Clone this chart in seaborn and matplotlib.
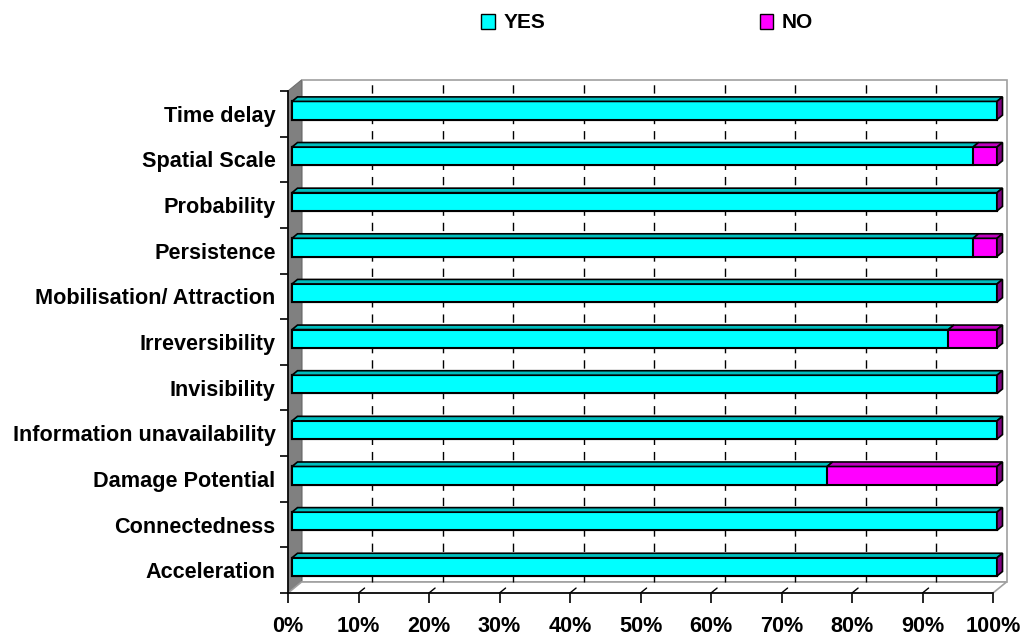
import numpy as np
import pandas as pd
import matplotlib
matplotlib.use("Agg")
import matplotlib.pyplot as plt
import seaborn as sns
from matplotlib.patches import Polygon, Patch
from matplotlib.transforms import offset_copy, IdentityTransform

# data (share of answers, %)
categories = ["Time delay", "Spatial Scale", "Probability", "Persistence",
              "Mobilisation/ Attraction", "Irreversibility", "Invisibility",
              "Information unavailability", "Damage Potential", "Connectedness",
              "Acceleration"]
yes_pct = [100, 96.6, 100, 96.6, 100, 93.1, 100, 100, 75.9, 100, 100]
no_pct = [0, 3.4, 0, 3.4, 0, 6.9, 0, 0, 24.1, 0, 0]
x_ticks = [0, 10, 20, 30, 40, 50, 60, 70, 80, 90, 100]
x_labels = ["0%", "10%", "20%", "30%", "40%", "50%", "60%", "70%", "80%", "90%", "100%"]

df = pd.DataFrame({"cat": categories, "yes": yes_pct, "no": no_pct})
df["total"] = df["yes"] + df["no"]

CYAN, CYAN_TOP = "#00FFFF", "#00BEBE"
MAG, MAG_TOP, MAG_SIDE = "#FF00FF", "#C000C0", "#800080"

sns.set_style("white")
plt.rcParams["font.family"] = ["Liberation Sans", "DejaVu Sans"]
plt.rcParams["font.weight"] = "bold"
plt.rcParams["text.color"] = "black"
FS = 15.6

fig = plt.figure(figsize=(10.25, 6.35), dpi=100)
ax = fig.add_axes([288 / 1025, 1 - 593 / 635, 705 / 1025, 502 / 635])
ax.patch.set_alpha(0)

sns.barplot(data=df, x="total", y="cat", color=MAG, orient="h", width=0.4,
            edgecolor="black", linewidth=1.5, saturation=1, ax=ax, zorder=5)
sns.barplot(data=df, x="yes", y="cat", color=CYAN, orient="h", width=0.4,
            edgecolor="black", linewidth=1.5, saturation=1, ax=ax, zorder=6)

ax.set_xlim(0, 100)
ax.set_ylim(10.5, -0.5)
ax.set_xlabel("")
ax.set_ylabel("")

# bar front faces sit a little behind the front plane
bar_tr = offset_copy(ax.transData, fig=fig, x=4, y=3.3, units="dots")
for p in ax.patches:
    p.set_transform(bar_tr)
    p.set_clip_on(False)

# 3d pieces in pixels
BACK = (13.5, 11.0)
DEPTH = (5.5, 4.5)


def px(x, y, off=(0, 0)):
    a, b = ax.transData.transform((x, y))
    return (a + off[0], b + off[1])


def poly(pts, fc, ec="black", lw=1.0, z=1):
    ax.add_patch(Polygon(pts, closed=True, facecolor=fc, edgecolor=ec, linewidth=lw,
                         transform=IdentityTransform(), clip_on=False, zorder=z))


def seg(a, b, color="black", lw=1.0, z=3, ls="-"):
    ax.add_line(plt.Line2D([a[0], b[0]], [a[1], b[1]], color=color, lw=lw, ls=ls,
                           transform=IdentityTransform(), clip_on=False, zorder=z))


# back wall, left wall, floor
poly([px(0, 10.5, BACK), px(100, 10.5, BACK), px(100, -0.5, BACK), px(0, -0.5, BACK)],
     "white", ec="#A0A0A0", lw=1.2, z=0.5)
poly([px(0, 10.5), px(0, 10.5, BACK), px(0, -0.5, BACK), px(0, -0.5)],
     "#808080", ec="#707070", lw=0.8, z=1)
poly([px(0, 10.5), px(100, 10.5), px(100, 10.5, BACK), px(0, 10.5, BACK)],
     "white", ec="#A0A0A0", lw=1.2, z=1)

for t in x_ticks[1:-1]:
    seg(px(t, 10.5, BACK), px(t, -0.5, BACK), lw=1, z=2, ls=(0, (6, 5)))
    a = px(t, 10.5)
    seg(a, (a[0] + BACK[0] * 0.45, a[1] + BACK[1] * 0.45), lw=1, z=3)

# top and side faces of the bars
for i, row in df.iterrows():
    y_top = i - 0.2
    y_bot = i + 0.2
    parts = [(0, row["yes"], CYAN_TOP)]
    if row["no"] > 0:
        parts.append((row["yes"], row["total"], MAG_TOP))
    for x0, x1, c in parts:
        f0 = px(x0, y_top, (4, 3.3))
        f1 = px(x1, y_top, (4, 3.3))
        poly([f0, f1, (f1[0] + DEPTH[0], f1[1] + DEPTH[1]), (f0[0] + DEPTH[0], f0[1] + DEPTH[1])],
             c, lw=1.2, z=7)
    s0 = px(row["total"], y_top, (4, 3.3))
    s1 = px(row["total"], y_bot, (4, 3.3))
    poly([s0, s1, (s1[0] + DEPTH[0], s1[1] + DEPTH[1]), (s0[0] + DEPTH[0], s0[1] + DEPTH[1])],
         MAG_SIDE, lw=1.2, z=7)

# axes, ticks
for s in ["top", "right"]:
    ax.spines[s].set_visible(False)
for s in ["left", "bottom"]:
    ax.spines[s].set_color("black")
    ax.spines[s].set_linewidth(1.2)
    ax.spines[s].set_zorder(8)

ax.set_xticks(x_ticks)
ax.set_xticklabels(x_labels)
ax.tick_params(axis="x", bottom=True, direction="out", length=7.2, width=1.2,
               color="black", labelcolor="black", pad=9, labelsize=FS)
ax.set_yticks(np.arange(-0.5, 11, 1), minor=True)
ax.tick_params(axis="y", which="major", length=0, pad=9, labelsize=FS, labelcolor="black")
ax.tick_params(axis="y", which="minor", left=True, direction="out", length=5.8,
               width=1.2, color="black")
for lab in ax.get_xticklabels() + ax.get_yticklabels():
    lab.set_fontweight("bold")

handles = [Patch(facecolor=CYAN, edgecolor="black", label="YES"),
           Patch(facecolor=MAG, edgecolor="black", label="NO")]
fig.legend(handles=handles, loc="center", bbox_to_anchor=(647 / 1025, 1 - 23 / 635),
           ncol=2, frameon=False, handlelength=0.65, handleheight=0.7,
           handletextpad=0.4, columnspacing=10.3,
           prop={"weight": "bold", "size": 15})

fig.savefig("out.png", dpi=100)
